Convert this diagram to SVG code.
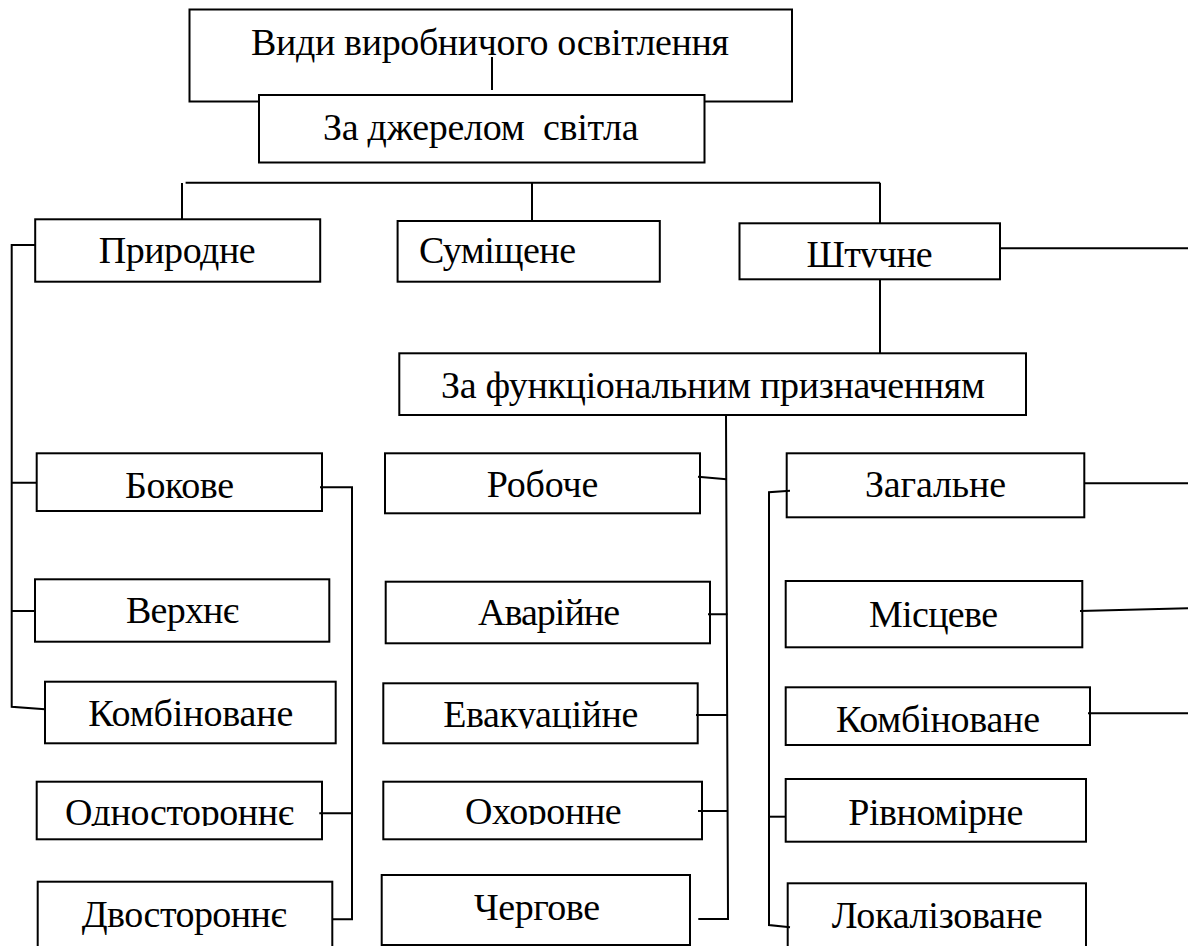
<svg xmlns="http://www.w3.org/2000/svg" width="1188" height="946" viewBox="0 0 1188 946">
<style>
.box{fill:#fff;stroke:#000;stroke-width:2}
.ln{fill:none;stroke:#000;stroke-width:2}
.t{font-family:'Liberation Serif','DejaVu Serif',serif;font-size:38px;fill:#000;white-space:pre}
</style>
<defs>
<clipPath id="cShtuchne"><rect x="700" y="200" width="300" height="67.5"/></clipPath>
<clipPath id="cOdnost"><rect x="40" y="760" width="280" height="66"/></clipPath>
<clipPath id="cEvak"><rect x="390" y="660" width="300" height="68.5"/></clipPath>
<clipPath id="cOkhor"><rect x="390" y="760" width="300" height="65"/></clipPath>
</defs>
<rect width="1188" height="946" fill="#fff"/>
<g id="n-vydy"><rect class="box" x="189.5" y="9.5" width="602.5" height="92"/><text class="t" x="251" y="55" textLength="478">Види виробничого освітлення</text></g>
<g id="n-dzherelo"><rect class="box" x="259" y="95" width="445.5" height="67.5"/><text class="t" x="323" y="140" textLength="315.5">За джерелом  світла</text></g>
<g id="n-pryrodne"><rect class="box" x="35.2" y="219.3" width="285" height="62.4"/><text class="t" x="98.7" y="263.3" textLength="157">Природне</text></g>
<g id="n-sumishchene"><rect class="box" x="397.6" y="221" width="262.2" height="60.7"/><text class="t" x="419" y="263.3" textLength="157">Суміщене</text></g>
<g id="n-shtuchne"><rect class="box" x="739.5" y="223.3" width="260.5" height="56"/><text class="t" x="806.6" y="266.7" textLength="126" clip-path="url(#cShtuchne)">Штучне</text></g>
<g id="n-funkts"><rect class="box" x="399.3" y="353.3" width="626.7" height="61.7"/><text class="t" x="441" y="398.3" textLength="544">За функціональним призначенням</text></g>
<g id="n-bokove"><rect class="box" x="36.7" y="453.3" width="285.3" height="57.7"/><text class="t" x="125" y="498.3" textLength="109">Бокове</text></g>
<g id="n-verkhnie"><rect class="box" x="35" y="579.3" width="294.3" height="62.4"/><text class="t" x="126" y="623.3" textLength="113">Верхнє</text></g>
<g id="n-kombinovane-l"><rect class="box" x="45" y="681.7" width="290.7" height="61.6"/><text class="t" x="88.3" y="726" textLength="205">Комбіноване</text></g>
<g id="n-odnostoronnie"><rect class="box" x="36.7" y="781.7" width="285.3" height="57.6"/><text class="t" x="65" y="825" textLength="229" clip-path="url(#cOdnost)">Одностороннє</text></g>
<g id="n-dvostoronnie"><rect class="box" x="37.7" y="881.7" width="294.6" height="70"/><text class="t" x="81.7" y="927.3" textLength="205">Двостороннє</text></g>
<g id="n-roboche"><rect class="box" x="385" y="453.3" width="315" height="60"/><text class="t" x="486.7" y="497.3" textLength="111.6">Робоче</text></g>
<g id="n-avariine"><rect class="box" x="385.7" y="581.7" width="324.3" height="61.6"/><text class="t" x="478" y="625" textLength="142">Аварійне</text></g>
<g id="n-evakuatsiine"><rect class="box" x="383.3" y="683.3" width="314.4" height="60"/><text class="t" x="443.3" y="727.3" textLength="195" clip-path="url(#cEvak)">Евакуаційне</text></g>
<g id="n-okhoronne"><rect class="box" x="383.3" y="781.7" width="318.7" height="57.6"/><text class="t" x="465" y="824" textLength="156.7" clip-path="url(#cOkhor)">Охоронне</text></g>
<g id="n-chergove"><rect class="box" x="381.7" y="875" width="308.3" height="70"/><text class="t" x="474" y="920" textLength="126">Чергове</text></g>
<g id="n-zagalne"><rect class="box" x="786.7" y="453.3" width="297.6" height="64"/><text class="t" x="865" y="497.3" textLength="141">Загальне</text></g>
<g id="n-mistseve"><rect class="box" x="785.7" y="581" width="296.6" height="66.3"/><text class="t" x="869" y="626.7" textLength="129">Місцеве</text></g>
<g id="n-kombinovane-r"><rect class="box" x="785.7" y="687.3" width="304.3" height="57.7"/><text class="t" x="836" y="731.7" textLength="204">Комбіноване</text></g>
<g id="n-rivnomirne"><rect class="box" x="785.7" y="779" width="300.3" height="62.7"/><text class="t" x="848.3" y="825" textLength="175">Рівномірне</text></g>
<g id="n-lokalizovane"><rect class="box" x="787.7" y="883.3" width="298.3" height="70"/><text class="t" x="831.7" y="928.3" textLength="211">Локалізоване</text></g>
<g id="connectors">
<path class="ln" d="M492 57V90"/>
<path class="ln" d="M185.6 182.7H880"/>
<path class="ln" d="M182 183V219.3M532 183V221M880 182.7V223.3"/>
<path class="ln" d="M1000 248.3H1188"/>
<path class="ln" d="M880 279.3V353.3"/>
<path class="ln" d="M35 245H11.7V706.7L45 709.3"/>
<path class="ln" d="M11.7 482.7H36.7M11.7 611H35"/>
<path class="ln" d="M320 487.3H352V919.3H332.3M319.3 813.3H352"/>
<path class="ln" d="M726 415L728 919H698.3"/>
<path class="ln" d="M698 476.7L726.5 479.3M708 614.3H727.5M696 715H727.5M698 811H727.5"/>
<path class="ln" d="M790 490.7L769 492.3V925L790 927.3"/>
<path class="ln" d="M769 816.7H785.7"/>
<path class="ln" d="M1084 483.3H1188M1080 611L1188 608.3M1088 713.3H1188"/>
</g>
</svg>
